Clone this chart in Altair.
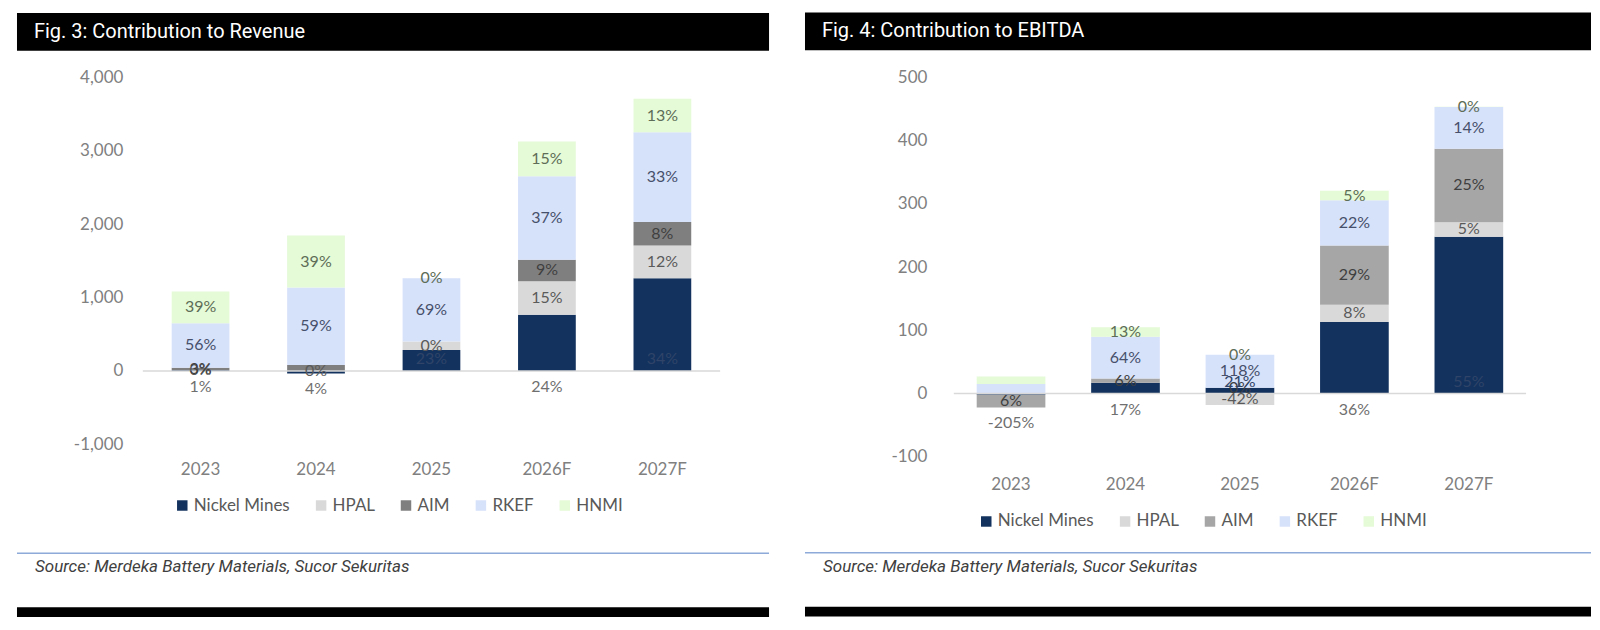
import altair as alt
import pandas as pd

years = ["2023", "2024", "2025", "2026F", "2027F"]
series = ["Nickel Mines", "HPAL", "AIM", "RKEF", "HNMI"]

# ---- Fig. 3: Contribution to Revenue ----
rev_nickel = [11, -35, 286, 764, 1264]
rev_hpal = [0, 0, 114, 458, 444]
rev_aim = [33, 82, 0, 292, 320]
rev_rkef = [606, 1054, 864, 1139, 1222]
rev_hnmi = [432, 709, 0, 472, 458]

rev_lbl_nickel = ["1%", "4%", "23%", "24%", "34%"]
rev_lbl_hpal = ["0%", "0%", "0%", "15%", "12%"]
rev_lbl_aim = ["3%", "", "", "9%", "8%"]
rev_lbl_rkef = ["56%", "59%", "69%", "37%", "33%"]
rev_lbl_hnmi = ["39%", "39%", "0%", "15%", "13%"]
rev_nickel_inside = [False, False, True, False, True]

# ---- Fig. 4: Contribution to EBITDA ----
eb_nickel = [-2, 17, 9, 113, 248]
eb_hpal = [0, 0, -18, 27.5, 23]
eb_aim = [-20, 7, 0, 93.5, 116]
eb_rkef = [15, 66, 52.5, 71.5, 66]
eb_hnmi = [12, 15, 0, 15, 0.5]

eb_lbl_nickel = ["-205%", "17%", "21%", "36%", "55%"]
eb_lbl_hpal = ["", "", "-42%", "8%", "5%"]
eb_lbl_aim = ["6%", "6%", "0%", "29%", "25%"]
eb_lbl_rkef = ["", "64%", "118%", "22%", "14%"]
eb_lbl_hnmi = ["", "13%", "0%", "5%", "0%"]
eb_nickel_inside = [False, False, True, False, True]

rev_ticks = [-1000, 0, 1000, 2000, 3000, 4000]
eb_ticks = [-100, 0, 100, 200, 300, 400, 500]

source_text = "Source: Merdeka Battery Materials, Sucor Sekuritas"

COL_LEFT = ["#13325e", "#d9d9d9", "#7f7f7f", "#d6e1fa", "#e5fad6"]
COL_RIGHT = ["#13325e", "#d9d9d9", "#a6a6a6", "#d6e1fa", "#e5fad6"]
LBL_COL = ["#6f6f6f", "#5a5a5a", "#3f3f3f", "#46506a", "#5d6d57"]
FONT = "Lato"


def build(vals, labels, inside):
    rows = []
    for si, s in enumerate(series):
        for yi, y in enumerate(years):
            rows.append(dict(year=y, series=s, idx=si, value=vals[si][yi],
                             label=labels[si][yi],
                             inside=bool(inside[yi]) if si == 0 else False))
    return pd.DataFrame(rows)


def panel(df, title, ticks, colors, W, H, lext, rext, top_off, ylab_pad,
          xlab_pad, pad_inner, leg_x, leg_y):
    one = pd.DataFrame({"t": [title], "s": [source_text]})
    xs = alt.Scale(domain=years, paddingInner=pad_inner, paddingOuter=pad_inner / 2)
    ys = alt.Scale(domain=[ticks[0], ticks[-1]], nice=False)
    # page-level rows, measured from the top of the plot area
    blue_y = 553 - (12 + top_off)
    src_y = 567 - (12 + top_off)
    foot_y = 607 - (12 + top_off)

    header = alt.Chart(one).mark_rect(color="black").encode(
        x=alt.value(-lext), x2=alt.value(W + rext),
        y=alt.value(-top_off), y2=alt.value(-top_off + 38))
    header_txt = alt.Chart(one).mark_text(
        align="left", baseline="middle", color="white", font="Roboto",
        fontSize=20).encode(
        x=alt.value(-lext + 17), y=alt.value(-top_off + 19), text="t:N")
    blue = alt.Chart(one).mark_rule(color="#8eaad8", strokeWidth=1.5).encode(
        x=alt.value(-lext), x2=alt.value(W + rext), y=alt.value(blue_y))
    src = alt.Chart(one).mark_text(
        align="left", baseline="middle", color="#404040", font="Roboto",
        fontStyle="italic", fontSize=17).encode(
        x=alt.value(-lext + 18), y=alt.value(src_y), text="s:N")
    footer = alt.Chart(one).mark_rect(color="black").encode(
        x=alt.value(-lext), x2=alt.value(W + rext),
        y=alt.value(foot_y), y2=alt.value(foot_y + 10))
    zero = alt.Chart(one).mark_rule(color="#d9d9d9", strokeWidth=1.5).encode(
        y=alt.Y(datum=0, scale=ys, title=None), x=alt.value(0), x2=alt.value(W))

    x_axis = alt.Axis(labelAngle=0, domain=False, ticks=False,
                      labelPadding=xlab_pad, labelFont=FONT,
                      labelFontSize=17, labelColor="#808080")
    y_axis = alt.Axis(values=ticks, grid=False, domain=False, ticks=False,
                      labelPadding=ylab_pad, labelFont=FONT, labelFontSize=17,
                      labelColor="#808080",
                      labelExpr="(datum.value < 0 ? '-' : '') + format(abs(datum.value), ',')")

    bars = alt.Chart(df).mark_bar().encode(
        x=alt.X("year:N", sort=years, scale=xs, title=None, axis=x_axis),
        y=alt.Y("value:Q", stack="zero", scale=ys, title=None, axis=y_axis),
        color=alt.Color("series:N", sort=series,
                        scale=alt.Scale(domain=series, range=colors),
                        legend=alt.Legend(
                            title=None, orient="none", direction="horizontal",
                            legendX=leg_x, legendY=leg_y, symbolType="square",
                            symbolSize=110, symbolStrokeWidth=0,
                            labelFont=FONT, labelFontSize=17,
                            labelColor="#595959", columnPadding=22,
                            labelOffset=3, columns=5)),
        order=alt.Order("idx:Q", sort="ascending"),
    )

    base = alt.Chart(df).transform_stack(
        stack="value", groupby=["year"],
        sort=[alt.SortField("idx", order="ascending")], as_=["v0", "v1"]
    ).transform_calculate(
        mid="(datum.v0 + datum.v1) / 2", lo="min(datum.v0, datum.v1)"
    ).transform_joinaggregate(bottom="min(lo)", groupby=["year"])

    xe = alt.X("year:N", sort=years, scale=xs, title=None)
    others = base.transform_filter("datum.idx > 0").mark_text(
        baseline="middle", font=FONT, fontSize=16).encode(
        x=xe, y=alt.Y("mid:Q", scale=ys, title=None), text="label:N",
        fill=alt.Fill("series:N", scale=alt.Scale(domain=series, range=LBL_COL),
                      legend=None))
    nick_below = base.transform_filter("datum.idx == 0 && !datum.inside").mark_text(
        baseline="middle", font=FONT, fontSize=16, dy=16, color="#6f6f6f").encode(
        x=xe, y=alt.Y("bottom:Q", scale=ys, title=None), text="label:N")
    nick_in = base.transform_filter("datum.idx == 0 && datum.inside").mark_text(
        baseline="middle", font=FONT, fontSize=16, dy=-12, color="#2f4468").encode(
        x=xe, y=alt.Y("v0:Q", scale=ys, title=None), text="label:N")

    return alt.layer(bars, header, header_txt, blue, src, footer, zero,
                     others, nick_below, nick_in).properties(width=W, height=H)


left = panel(build([rev_nickel, rev_hpal, rev_aim, rev_rkef, rev_hnmi],
                   [rev_lbl_nickel, rev_lbl_hpal, rev_lbl_aim, rev_lbl_rkef,
                    rev_lbl_hnmi], rev_nickel_inside),
             "Fig. 3: Contribution to Revenue", rev_ticks, COL_LEFT,
             W=578, H=367.5, lext=126, rext=49, top_off=64.5, ylab_pad=20,
             xlab_pad=17, pad_inner=0.5, leg_x=31, leg_y=420)

right = panel(build([eb_nickel, eb_hpal, eb_aim, eb_rkef, eb_hnmi],
                    [eb_lbl_nickel, eb_lbl_hpal, eb_lbl_aim, eb_lbl_rkef,
                     eb_lbl_hnmi], eb_nickel_inside),
              "Fig. 4: Contribution to EBITDA", eb_ticks, COL_RIGHT,
              W=573, H=380, lext=149, rext=65, top_off=65, ylab_pad=27,
              xlab_pad=20, pad_inner=0.4, leg_x=24, leg_y=436)

chart = alt.hconcat(left, right, spacing=34).resolve_scale(
    x="independent", y="independent", color="independent", fill="independent"
).resolve_legend(color="independent").properties(
    padding={"left": 8, "top": 4, "right": 0, "bottom": 0},
    background="white",
).configure_view(stroke=None)

chart.save("out.html", embed_options={"renderer": "svg", "actions": False})
